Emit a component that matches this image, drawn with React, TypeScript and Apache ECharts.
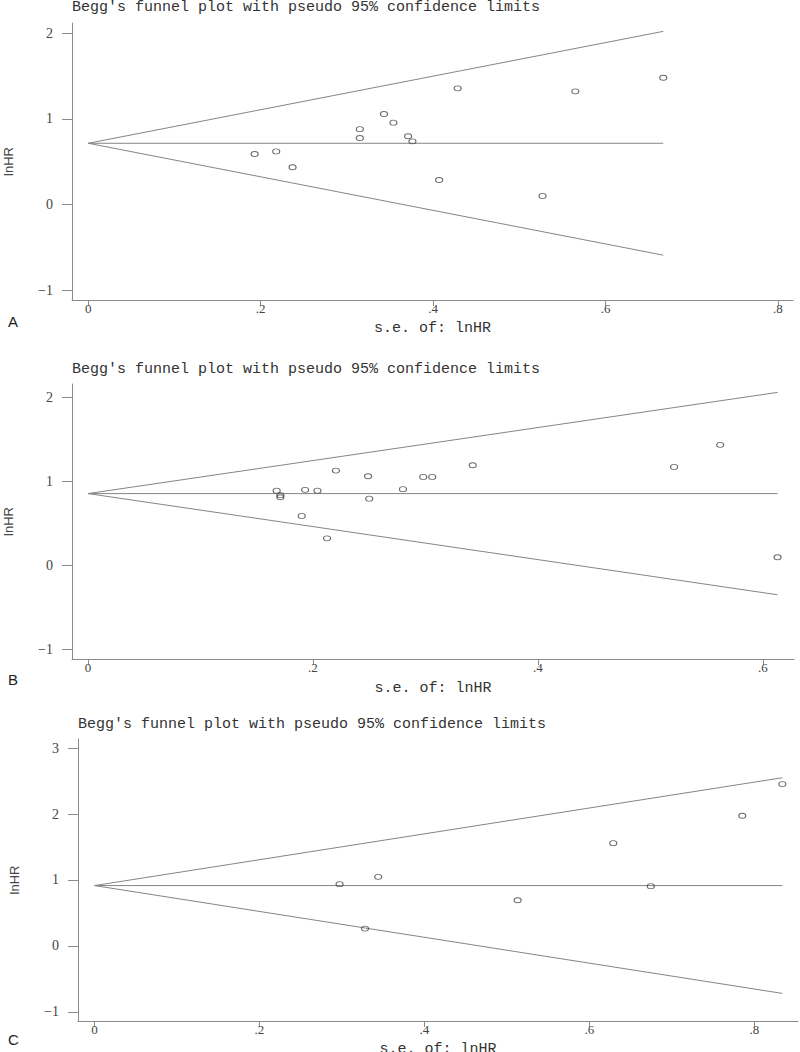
import { useEffect, useRef } from 'react';
import * as echarts from 'echarts';

const titleText = "Begg's funnel plot with pseudo 95% confidence limits";
const xName = 's.e. of: lnHR';
const yName = 'lnHR';
const panelLabels = ['A', 'B', 'C'];

// Panel A
const seA = [0.193, 0.218, 0.237, 0.315, 0.315, 0.343, 0.354, 0.371, 0.376, 0.4285, 0.407, 0.527, 0.565, 0.667];
const lnhrA = [0.59, 0.62, 0.435, 0.88, 0.777, 1.057, 0.956, 0.797, 0.738, 1.357, 0.286, 0.10, 1.322, 1.48];
const pooledA = 0.715;
const xTicksA = [0, 0.2, 0.4, 0.6, 0.8];
const yTicksA = [-1, 0, 1, 2];

// Panel B
const seB = [0.1677, 0.171, 0.171, 0.193, 0.204, 0.2204, 0.19, 0.2125, 0.249, 0.25, 0.28, 0.298, 0.306, 0.342, 0.521, 0.562, 0.613];
const lnhrB = [0.889, 0.835, 0.81, 0.898, 0.889, 1.127, 0.589, 0.323, 1.06, 0.794, 0.906, 1.052, 1.052, 1.19, 1.171, 1.433, 0.0975];
const pooledB = 0.854;
const xTicksB = [0, 0.2, 0.4, 0.6];
const yTicksB = [-1, 0, 1, 2];

// Panel C
const seC = [0.2972, 0.344, 0.328, 0.513, 0.629, 0.6745, 0.7854, 0.834];
const lnhrC = [0.936, 1.047, 0.263, 0.693, 1.558, 0.906, 1.973, 2.454];
const pooledC = 0.915;
const xTicksC = [0, 0.2, 0.4, 0.6, 0.8];
const yTicksC = [-1, 0, 1, 2, 3];

const panels = [
  { se: seA, lnhr: lnhrA, pooled: pooledA, xTicks: xTicksA, yTicks: yTicksA,
    grid: { left: 72, top: 23, width: 721, height: 277 }, xr: [-0.0189, 0.8175], yr: [-1.116, 2.12],
    titleTop: 0, titleLeft: 72, labelTop: 314, nameGap: 22 },
  { se: seB, lnhr: lnhrB, pooled: pooledB, xTicks: xTicksB, yTicks: yTicksB,
    grid: { left: 72, top: 384, width: 722, height: 275 }, xr: [-0.0142, 0.6276], yr: [-1.11, 2.155],
    titleTop: 362, titleLeft: 72, labelTop: 672, nameGap: 23 },
  { se: seC, lnhr: lnhrC, pooled: pooledC, xTicks: xTicksC, yTicks: yTicksC,
    grid: { left: 78, top: 739, width: 720, height: 282 }, xr: [-0.020, 0.853], yr: [-1.138, 3.137],
    titleTop: 717, titleLeft: 78, labelTop: 1032, nameGap: 22 },
];

const axisGray = '#8a8a8a';
const lineGray = '#858585';
const textGray = '#333';

export default function App() {
  const ref = useRef<HTMLDivElement>(null);
  useEffect(() => {
    if (!ref.current) return;
    const chart = echarts.init(ref.current, null, { renderer: 'svg' });
    const titles: any[] = [];
    const grids: any[] = [];
    const xAxes: any[] = [];
    const yAxes: any[] = [];
    const series: any[] = [];
    panels.forEach((p, i) => {
      titles.push({
        text: titleText, left: p.titleLeft, top: p.titleTop, padding: 0,
        textStyle: { fontFamily: 'Liberation Mono', fontSize: 15, fontWeight: 'normal', color: textGray },
      });
      titles.push({
        text: panelLabels[i], left: 8, top: p.labelTop, padding: 0,
        textStyle: { fontFamily: 'Liberation Sans', fontSize: 15, fontWeight: 'normal', color: '#222' },
      });
      grids.push({ ...p.grid, containLabel: false, outerBoundsMode: 'none' });
      xAxes.push({
        type: 'value', gridIndex: i, min: p.xr[0], max: p.xr[1],
        name: xName, nameLocation: 'middle', nameGap: p.nameGap, nameMoveOverlap: false,
        nameTextStyle: { fontFamily: 'Liberation Mono', fontSize: 15, lineHeight: 13, color: textGray },
        axisLine: { show: true, onZero: false, lineStyle: { color: axisGray, width: 1 } },
        axisTick: { show: true, length: 6, customValues: p.xTicks, lineStyle: { color: axisGray } },
        axisLabel: {
          customValues: p.xTicks, margin: 2,
          fontFamily: 'Liberation Serif', fontSize: 13, lineHeight: 12, color: '#444',
          formatter: (v: number) => (v === 0 ? '0' : v.toFixed(1).replace(/^0/, '')),
        },
        splitLine: { show: false },
      });
      yAxes.push({
        type: 'value', gridIndex: i, min: p.yr[0], max: p.yr[1],
        name: yName, nameLocation: 'middle', nameGap: 57, nameRotate: 90, nameMoveOverlap: false,
        nameTextStyle: { fontFamily: 'Liberation Sans Narrow, Liberation Sans', fontSize: 13, color: '#444' },
        axisLine: { show: true, onZero: false, lineStyle: { color: axisGray, width: 1 } },
        axisTick: { show: true, length: 10, customValues: p.yTicks, lineStyle: { color: axisGray } },
        axisLabel: {
          customValues: p.yTicks, margin: 19,
          fontFamily: 'Liberation Serif', fontSize: 14, color: '#444',
          formatter: (v: number) => (v < 0 ? '\u2212' + Math.abs(v) : String(v)),
        },
        splitLine: { show: false },
      });
      const m = Math.max(...p.se);
      const lineBase = {
        type: 'line', xAxisIndex: i, yAxisIndex: i, showSymbol: false, symbol: 'none',
        lineStyle: { color: lineGray, width: 1 }, silent: true, z: 1,
      };
      series.push({ ...lineBase, data: [[0, p.pooled], [m, p.pooled + 1.96 * m]] });
      series.push({ ...lineBase, data: [[0, p.pooled], [m, p.pooled - 1.96 * m]] });
      series.push({ ...lineBase, data: [[0, p.pooled], [m, p.pooled]] });
      series.push({
        type: 'scatter', xAxisIndex: i, yAxisIndex: i, z: 3,
        symbol: 'path://M0,4a5,4 0 1,0 10,0a5,4 0 1,0 -10,0z', symbolSize: [7, 5],
        itemStyle: { color: 'rgba(0,0,0,0)', borderColor: '#444', borderWidth: 1 },
        data: p.se.map((s, k) => [s, p.lnhr[k]]),
      });
    });
    chart.setOption({
      animation: false,
      backgroundColor: '#fff',
      title: titles,
      grid: grids,
      xAxis: xAxes,
      yAxis: yAxes,
      series,
    });
    return () => chart.dispose();
  }, []);
  return <div ref={ref} style={{ position: 'absolute', left: 0, top: 0, width: 800, height: 1052 }} />;
}
